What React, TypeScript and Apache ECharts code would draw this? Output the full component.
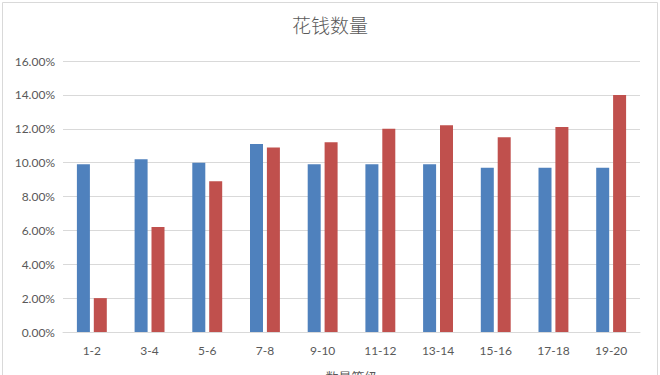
import React, { useEffect, useRef } from "react";
import * as echarts from "echarts";

const categories = ["1-2", "3-4", "5-6", "7-8", "9-10", "11-12", "13-14", "15-16", "17-18", "19-20"];
const seriesBlue = [9.9, 10.2, 10.0, 11.1, 9.9, 9.9, 9.9, 9.7, 9.7, 9.7];
const seriesRed = [2.0, 6.2, 8.9, 10.9, 11.2, 12.0, 12.2, 11.5, 12.1, 14.0];
const titleText = "花钱数量";
const xAxisName = "数量等级";

export default function App() {
  const ref = useRef<HTMLDivElement>(null);
  useEffect(() => {
    if (!ref.current) return;
    const chart = echarts.init(ref.current, undefined, { renderer: "svg" });
    chart.setOption({
      animation: false,
      backgroundColor: "#ffffff",
      title: {
        text: titleText,
        left: "center",
        top: 10,
        textStyle: {
          fontFamily: "Noto Sans CJK SC",
          fontSize: 19,
          fontWeight: 300,
          color: "#595959",
        },
      },
      graphic: [
        {
          type: "rect",
          shape: { x: 2.5, y: 2.5, width: 655, height: 380 },
          style: { fill: "none", stroke: "#d9d9d9", lineWidth: 1 },
          silent: true,
        },
      ],
      grid: { left: 63, right: 20, top: 61, bottom: 43, outerBoundsMode: "none", containLabel: false },
      xAxis: {
        type: "category",
        data: categories,
        name: xAxisName,
        nameLocation: "middle",
        nameGap: 38,
        nameTextStyle: { fontFamily: "Noto Sans CJK SC", fontSize: 13, color: "#595959" },
        axisLine: { lineStyle: { color: "#d9d9d9" } },
        axisTick: { show: false },
        axisLabel: { fontFamily: "Lato", fontSize: 12, color: "#595959", margin: 12 },
      },
      yAxis: {
        type: "value",
        min: 0,
        max: 16,
        interval: 2,
        axisLine: { show: false },
        axisTick: { show: false },
        splitLine: { lineStyle: { color: "#d9d9d9" } },
        axisLabel: {
          fontFamily: "Lato",
          fontSize: 12,
          color: "#595959",
          margin: 8,
          formatter: (v: number) => v.toFixed(2) + "%",
        },
      },
      series: [
        {
          type: "bar",
          data: seriesBlue,
          barWidth: 13,
          barGap: "30%",
          itemStyle: { color: "#4F81BD" },
        },
        {
          type: "bar",
          data: seriesRed,
          barWidth: 13,
          barGap: "30%",
          itemStyle: { color: "#C0504D" },
        },
      ],
    });
    return () => chart.dispose();
  }, []);
  return (
    <div
      ref={ref}
      style={{ position: "fixed", left: 0, top: 0, width: 660, height: 375 }}
    />
  );
}
